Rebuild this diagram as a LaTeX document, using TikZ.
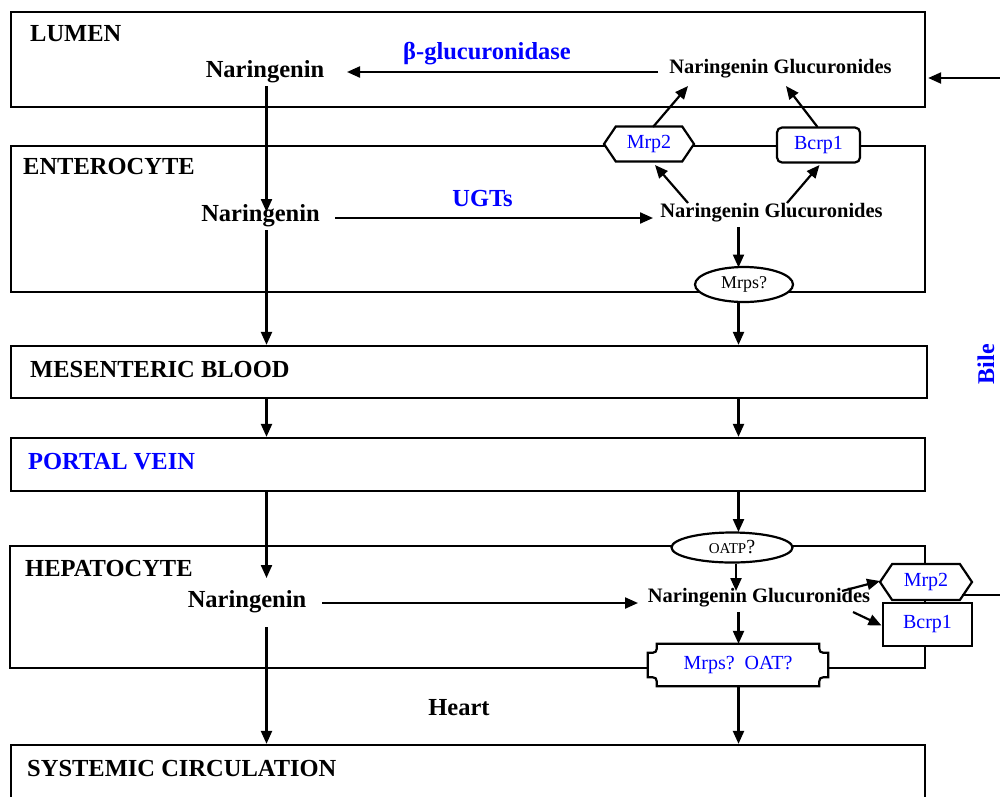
\documentclass[tikz,border=0pt]{standalone}
\usepackage{fontspec}
\setmainfont{Liberation Serif}
\usetikzlibrary{arrows.meta,shapes.geometric,shapes.symbols,calc}
\begin{document}
\begin{tikzpicture}[x=1pt,y=-1pt,
  box/.style={draw,line width=2.3pt,inner sep=0,rectangle},
  lab/.style={font=\fontsize{24.5}{29}\selectfont\bfseries,inner sep=0,anchor=west},
  nar/.style={font=\fontsize{24.5}{29}\selectfont\bfseries,inner sep=1pt},
  ngl/.style={font=\fontsize{20.5}{24}\selectfont\bfseries,inner sep=1pt},
  enz/.style={font=\fontsize{24.5}{29}\selectfont\bfseries,text=blue,inner sep=1pt},
  trn/.style={font=\fontsize{20}{24}\selectfont,text=blue,inner sep=0,draw,line width=2.2pt,fill=white},
  hexa/.style={trn,signal,signal to=east and west,signal pointer angle=112},
  ell/.style={ellipse,draw,line width=2.2pt,fill=white,inner sep=0},
  arr/.style={line width=2.2pt,-{Triangle[length=13pt,width=11pt]}},
  ln/.style={line width=2.2pt}]
\useasboundingbox (0,0) rectangle (1000,796);
% compartments
\node[box,minimum width=914,minimum height=95] (lumen) at (468,59.5) {};
\node[box,minimum width=914,minimum height=146] (entero) at (468,219) {};
\node[box,minimum width=916,minimum height=52] (mes) at (469,372) {};
\node[box,minimum width=914,minimum height=53] (portal) at (468,464.5) {};
\node[box,minimum width=915,minimum height=122] (hep) at (467.5,607) {};
\node[box,minimum width=914,minimum height=65] (sys) at (468,777.5) {};
% compartment labels
\node[lab] (tlumen) at (30,34) {LUMEN};
\node[lab] (tentero) at (23,167) {ENTEROCYTE};
\node[lab] (tmes) at (30,369) {MESENTERIC BLOOD};
\node[lab,text=blue] (tportal) at (28,462) {PORTAL VEIN};
\node[lab] (thep) at (25,568) {HEPATOCYTE};
\node[lab] (tsys) at (27,768) {SYSTEMIC CIRCULATION};
% species
\node[nar] (lnar) at (265,72) {Naringenin};
\node[ngl] (lng) at (780.5,69) {Naringenin Glucuronides};
\node[enz] (beta) at (487,54) {β-glucuronidase};
\node[nar] (enar) at (260.5,216) {Naringenin};
\node[enz] (ugt) at (482.5,198.5) {UGTs};
\node[ngl] (eng) at (771.5,213) {Naringenin Glucuronides};
\node[nar] (hnar) at (247,602) {Naringenin};
\node[ngl] (hng) at (759,598) {Naringenin Glucuronides};
\node[nar] (heart) at (459,708) {Heart};
% transporters
\node[hexa,minimum width=90,minimum height=35] (emrp) at (649,144) {Mrp2};
\node[trn,rounded corners=5pt,minimum width=83,minimum height=35] (ebcrp) at (818.5,145) {Bcrp1};
\node[ell,minimum width=98,minimum height=35,font=\fontsize{18}{22}\selectfont] (emrps) at (744,284.5) {Mrps?};
\node[ell,minimum width=121,minimum height=30] (oatp) at (732,547.5) {{\fontsize{15}{18}\selectfont OATP}{\fontsize{20}{24}\selectfont ?}};
\node[hexa,minimum width=92,minimum height=36] (hmrp) at (926,582) {Mrp2};
\node[trn,minimum width=89,minimum height=43] (hbcrp) at (927.5,624.5) {Bcrp1};
\node[fill=white,inner sep=0,minimum width=180,minimum height=42,font=\fontsize{20}{24}\selectfont,text=blue] (hmrps) at (738,665) {Mrps?\ \ OAT?};
\draw[ln] ($(hmrps.north west)+(9,0)$) -- ($(hmrps.north east)+(-9,0)$)
  .. controls ($(hmrps.north east)+(-9,9)$) .. ($(hmrps.north east)+(0,9)$)
  -- ($(hmrps.south east)+(0,-9)$)
  .. controls ($(hmrps.south east)+(-9,-9)$) .. ($(hmrps.south east)+(-9,0)$)
  -- ($(hmrps.south west)+(9,0)$)
  .. controls ($(hmrps.south west)+(9,-9)$) .. ($(hmrps.south west)+(0,-9)$)
  -- ($(hmrps.north west)+(0,9)$)
  .. controls ($(hmrps.north west)+(9,9)$) .. ($(hmrps.north west)+(9,0)$) -- cycle;
% Bile label
\node[font=\fontsize{24}{29}\selectfont\bfseries,text=blue,rotate=90,inner sep=0] (bile) at (986,364) {Bile};
% columns
\coordinate (L) at (266.5,0);
\coordinate (R) at (738.5,0);
\coordinate (bt) at ($(lumen.east)+(2,18.5)$);
% connectors
\draw[arr] ($(lng)+(-122.5,3)$) -- ($(lnar)+(82,0)$);
\draw[arr] ($(lnar)+(1.5,14)$) -- ($(enar)+(6,-4)$);
\draw[arr] ($(enar)+(74.5,2)$) -- ($(eng)+(-118.5,5)$);
\draw[arr] ($(eng)+(-83.5,-10)$) -- ($(emrp)+(6,21)$);
\draw[arr] ($(eng)+(15.5,-10)$) -- ($(ebcrp)+(1,20)$);
\draw[arr] ($(emrp)+(4,-17)$) -- ($(lng)+(-92.5,17)$);
\draw[arr] ($(ebcrp)+(-1,-18)$) -- ($(lng)+(5.5,17)$);
\draw[arr] ($(eng)+(-33,14)$) -- ($(emrps)+(-5.5,-17)$);
\draw[arr] ($(emrps)+(-5.5,17)$) -- (R |- mes.north);
\draw[arr] ($(enar)+(6,14)$) -- (L |- mes.north);
\draw[arr] (L |- mes.south) -- (L |- portal.north);
\draw[arr] (R |- mes.south) -- (R |- portal.north);
\draw[arr] (L |- portal.south) -- ($(hnar)+(19.5,-24)$);
\draw[arr] (R |- portal.south) -- ($(oatp)+(6.5,-15.5)$);
\draw[arr] ($(oatp)+(4,16)$) -- ($(hng)+(-23,-7)$);
\draw[arr] ($(hnar)+(75,1)$) -- ($(hng)+(-121,5)$);
\draw[arr] ($(hng)+(83,-7)$) -- ($(hmrp)+(-46,-1)$);
\draw[arr] ($(hng)+(94,14)$) -- ($(hbcrp)+(-46,1)$);
\draw[arr] ($(hng)+(-20.5,14)$) -- (R |- hmrps.north);
\draw[arr] (R |- hmrps.south) -- (R |- sys.north);
\draw[arr] ($(hnar)+(19.5,25)$) -- (L |- sys.north);
\draw[arr] ($(hmrp)+(36,13)$) -- ++(50,0) |- (bt);
\end{tikzpicture}
\end{document}
